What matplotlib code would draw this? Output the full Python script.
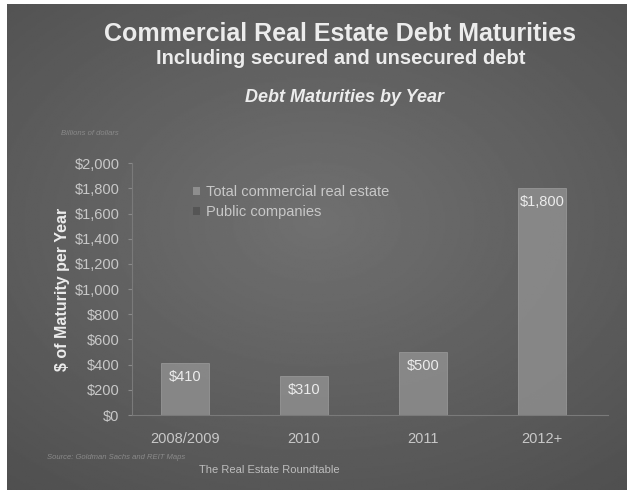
import numpy as np
import matplotlib
matplotlib.use("Agg")
import matplotlib.pyplot as plt
from matplotlib.patches import Patch

plt.rcParams['font.family'] = ['Liberation Sans', 'DejaVu Sans']

# maturities by year, $ billions
years = ["2008/2009", "2010", "2011", "2012+"]
total_debt = [410, 310, 500, 1800]
series_names = ["Total commercial real estate", "Public companies"]
y_ticks = list(range(0, 2001, 200))

fig = plt.figure(figsize=(6.27, 4.90), dpi=100)
fig.patch.set_facecolor("white")

# slide background: soft radial gradient, lighter in the middle
bg = fig.add_axes([7 / 627, 0, 1 - 7 / 627, 1 - 4 / 490])
yy, xx = np.mgrid[-1:1:300j, -1:1:400j]
r = np.sqrt((xx * 0.9) ** 2 + ((yy + 0.1) * 1.0) ** 2)
bg.imshow(0.44 - 0.09 * r, cmap="gray", vmin=0, vmax=1,
          aspect="auto", extent=[0, 1, 0, 1])
bg.set_axis_off()

txt = "#ececec"
soft = "#c8c8c8"

fig.text(0.543, 0.930, "Commercial Real Estate Debt Maturities", ha="center",
         va="center", fontsize=18, fontweight="bold", color=txt)
fig.text(0.543, 0.881, "Including secured and unsecured debt", ha="center",
         va="center", fontsize=14.5, fontweight="bold", color=txt)
fig.text(0.550, 0.800, "Debt Maturities by Year", ha="center", va="center",
         fontsize=13, fontweight="bold", style="italic", color=txt)
fig.text(0.097, 0.728, "Billions of dollars", ha="left", va="center",
         fontsize=5.5, style="italic", color="#8a8a8a")
fig.text(0.075, 0.067, "Source: Goldman Sachs and REIT Maps", ha="left",
         va="center", fontsize=5.5, style="italic", color="#8a8a8a")
fig.text(0.430, 0.041, "The Real Estate Roundtable", ha="center",
         va="center", fontsize=8, color="#bdbdbd")

ax = fig.add_axes([132 / 627, 0.153, 476 / 627, 0.514])
ax.set_facecolor("none")
x = np.arange(len(years))
bars = ax.bar(x, total_debt, width=0.41, color="#8e8e8e", alpha=0.85,
              edgecolor="#9c9c9c", linewidth=0.6, zorder=2)
for b, v in zip(bars, total_debt):
    ax.annotate(f"${v:,}", (b.get_x() + b.get_width() / 2, v),
                xytext=(0, -5), textcoords="offset points", ha="center",
                va="top", fontsize=10.5, color=txt, zorder=3)

ax.set_xlim(-0.445, 3.555)
ax.set_ylim(0, 2000)
ax.set_yticks(y_ticks)
ax.set_yticklabels([f"${t:,}" for t in y_ticks])
ax.set_xticks(x)
ax.set_xticklabels(years)
ax.tick_params(axis="y", colors="#8a8a8a", labelcolor=soft, labelsize=10.5,
               length=3, pad=6)
ax.tick_params(axis="x", colors=soft, labelsize=10.5, length=0, pad=12)
for side in ["top", "right"]:
    ax.spines[side].set_visible(False)
ax.spines["left"].set_color("#7a7a7a")
ax.spines["bottom"].set_color("#7a7a7a")
ax.spines["left"].set_linewidth(0.8)
ax.spines["bottom"].set_linewidth(0.8)
ax.set_ylabel("$ of Maturity per Year", fontsize=11.5, fontweight="bold",
              color=txt, labelpad=3)

handles = [Patch(facecolor="#8e8e8e", edgecolor="none"),
           Patch(facecolor="#555555", edgecolor="none")]
leg = ax.legend(handles, series_names, loc="upper left",
                bbox_to_anchor=(0.10, 0.965), frameon=False, fontsize=10.5,
                handlelength=0.5, handleheight=0.5, handletextpad=0.4,
                labelspacing=0.4, labelcolor=soft)

fig.savefig("out.png", dpi=100)
